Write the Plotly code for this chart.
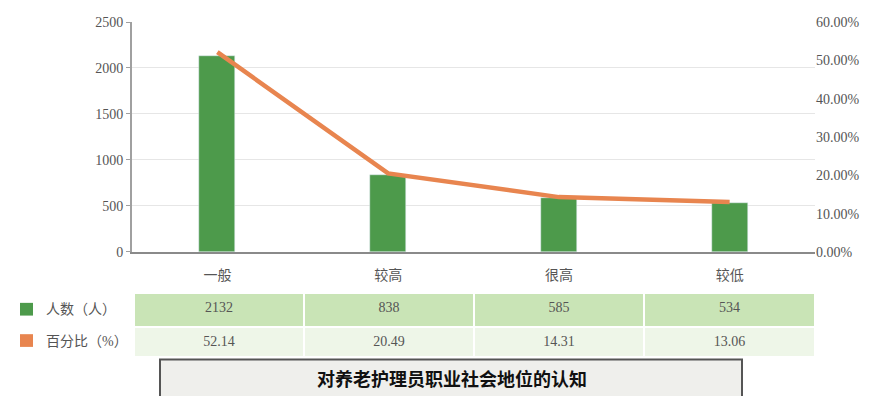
import plotly.graph_objects as go

categories = ["一般", "较高", "很高", "较低"]
counts = [2132, 838, 585, 534]
percents = [52.14, 20.49, 14.31, 13.06]
row_labels = ["人数（人）", "百分比（%）"]
title_text = "对养老护理员职业社会地位的认知"

# the page puts the figure 8px in from each edge, so keep it inside the window
OFF = 8
W, H = 874 - 2 * OFF, 404 - 2 * OFF
TOP = 22 - OFF
ph = H - TOP

def px(x):
    return (x - OFF) / W

def py(y):
    return (H - (y - OFF)) / ph

green = "#4d9a4b"
orange = "#e8854f"
num_font = "Liberation Serif, Noto Sans CJK SC"

fig = go.Figure()

fig.add_trace(go.Bar(
    x=categories, y=counts, marker_color=green, width=0.21,
    showlegend=False,
))
fig.add_trace(go.Scatter(
    x=categories, y=[p / 100 for p in percents], yaxis="y2",
    mode="lines", line=dict(color=orange, width=4.5), showlegend=False,
))

fig.add_trace(go.Table(
    domain=dict(x=[0, px(815)], y=[py(364), py(299)]),
    columnwidth=[126, 170, 170, 170, 171],
    header=dict(
        values=[""] + [str(c) for c in counts],
        fill_color=["white"] + ["#c9e4b6"] * 4,
        line_color="white", line_width=2,
        align="center", height=34,
        font=dict(family=num_font, size=14, color="#555555"),
    ),
    cells=dict(
        values=[[""]] + [[f"{p:.2f}"] for p in percents],
        fill_color=["white"] + ["#eef6e8"] * 4,
        line_color="white", line_width=2,
        align="center", height=31,
        font=dict(family=num_font, size=14, color="#555555"),
    ),
))

shapes = [
    dict(type="rect", xref="paper", yref="paper",
         x0=px(20), x1=px(33), y0=py(322), y1=py(309),
         fillcolor=green, line_width=0),
    dict(type="rect", xref="paper", yref="paper",
         x0=px(20), x1=px(33), y0=py(354), y1=py(341),
         fillcolor=orange, line_width=0),
    dict(type="rect", xref="paper", yref="paper",
         x0=px(160), x1=px(742), y0=py(420), y1=py(367),
         fillcolor="#efefec", line=dict(color="#555555", width=2)),
]

annotations = [
    dict(text=row_labels[0], xref="paper", yref="paper", x=px(44), y=py(316),
         xanchor="left", yanchor="middle", showarrow=False,
         font=dict(family=num_font, size=14, color="#555555")),
    dict(text=row_labels[1], xref="paper", yref="paper", x=px(44), y=py(348),
         xanchor="left", yanchor="middle", showarrow=False,
         font=dict(family=num_font, size=14, color="#555555")),
    dict(text="<b>" + title_text + "</b>", xref="paper", yref="paper",
         x=px(452), y=py(386), xanchor="center", yanchor="middle", showarrow=False,
         font=dict(family="Noto Sans CJK SC", size=18, color="#111111")),
]

fig.update_layout(
    width=W, height=H,
    margin=dict(l=0, r=0, t=TOP, b=0),
    paper_bgcolor="white", plot_bgcolor="white",
    bargap=0,
    xaxis=dict(
        domain=[px(132), px(815)],
        anchor="y",
        tickfont=dict(family=num_font, size=14, color="#555555"),
        showline=True, linecolor="#8a8a8a", linewidth=2,
        ticks="", showgrid=False, ticklabelstandoff=9,
    ),
    yaxis=dict(
        domain=[py(257), 1],
        range=[0, 2500], dtick=500,
        tickfont=dict(family=num_font, size=14, color="#555555"),
        showline=True, linecolor="#a0a0a0", linewidth=2,
        ticks="outside", ticklen=4, tickcolor="#a0a0a0",
        gridcolor="#e6e6e6", zeroline=False,
    ),
    yaxis2=dict(
        overlaying="y", side="right",
        range=[0, 0.6], dtick=0.1, tickformat=".2%",
        tickfont=dict(family=num_font, size=14, color="#555555"),
        showgrid=False, zeroline=False, showline=False,
    ),
    shapes=shapes,
    annotations=annotations,
)

fig.write_html("out.html")
